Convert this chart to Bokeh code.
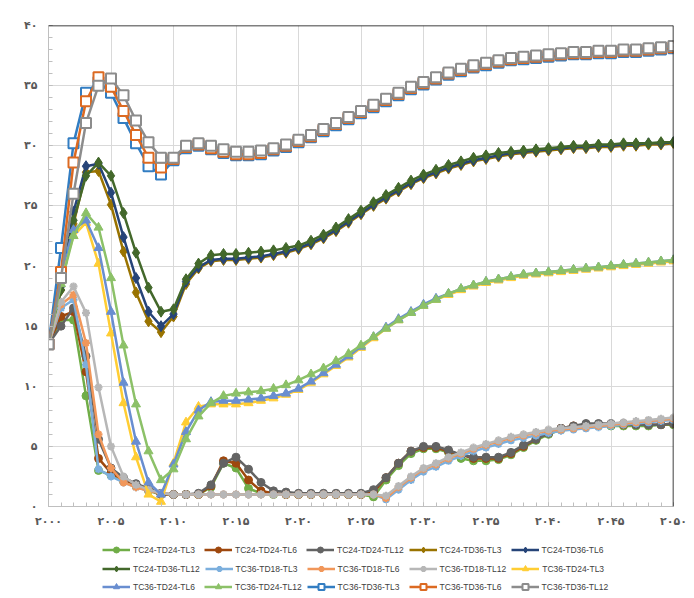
from bokeh.plotting import figure
from bokeh.layouts import column
from bokeh.models import Range1d, FixedTicker, Span, Legend, LegendItem
from bokeh.embed import file_html
from bokeh.resources import INLINE

years = list(range(2000, 2051))

x_ticks = [2000, 2005, 2010, 2015, 2020, 2025, 2030, 2035, 2040, 2045, 2050]
x_tick_labels = ["۲۰۰۰", "۲۰۰۵", "۲۰۱۰", "۲۰۱۵", "۲۰۲۰", "۲۰۲۵", "۲۰۳۰", "۲۰۳۵", "۲۰۴۰", "۲۰۴۵", "۲۰۵۰"]
y_ticks = [0, 5, 10, 15, 20, 25, 30, 35, 40]
y_tick_labels = ["۰", "۵", "۱۰", "۱۵", "۲۰", "۲۵", "۳۰", "۳۵", "۴۰"]

series_names = [
    "TC24-TD24-TL3", "TC24-TD24-TL6", "TC24-TD24-TL12", "TC24-TD36-TL3", "TC24-TD36-TL6",
    "TC24-TD36-TL12", "TC36-TD18-TL3", "TC36-TD18-TL6", "TC36-TD18-TL12", "TC36-TD24-TL3",
    "TC36-TD24-TL6", "TC36-TD24-TL12", "TC36-TD36-TL3", "TC36-TD36-TL6", "TC36-TD36-TL12",
]

tc24_td24_tl3 = [13.5, 15.5, 15.5, 9.2, 3.0, 2.6, 2.1, 1.7, 1.3, 1.0,
                 1.0, 1.0, 1.0, 1.6, 3.6, 3.2, 1.5, 1.1, 1.0, 1.0,
                 1.0, 1.0, 1.0, 1.0, 1.0, 1.0, 0.8, 2.2, 3.4, 4.4,
                 4.8, 4.8, 4.5, 4.0, 3.8, 3.8, 3.9, 4.3, 4.9, 5.5,
                 6.0, 6.4, 6.6, 6.7, 6.7, 6.7, 6.7, 6.7, 6.7, 6.8,
                 6.8]
tc24_td24_tl6 = [13.5, 15.8, 16.2, 11.2, 4.0, 2.8, 2.2, 1.8, 1.4, 1.0,
                 1.0, 1.0, 1.0, 1.7, 3.8, 3.6, 2.2, 1.3, 1.1, 1.0,
                 1.0, 1.0, 1.0, 1.0, 1.0, 1.0, 1.2, 2.4, 3.6, 4.6,
                 4.9, 4.9, 4.6, 4.3, 4.0, 4.0, 4.0, 4.4, 5.0, 5.6,
                 6.1, 6.5, 6.7, 6.8, 6.8, 6.8, 6.8, 6.8, 6.8, 6.8,
                 6.9]
tc24_td24_tl12 = [13.5, 15.0, 16.5, 12.5, 5.6, 3.2, 2.4, 1.9, 1.5, 1.1,
                  1.0, 1.0, 1.1, 1.8, 3.6, 4.1, 3.1, 2.0, 1.3, 1.2,
                  1.1, 1.1, 1.1, 1.1, 1.1, 1.1, 1.4, 2.4, 3.6, 4.6,
                  5.0, 5.0, 4.7, 4.3, 4.1, 4.1, 4.1, 4.5, 5.1, 5.6,
                  6.1, 6.5, 6.7, 6.9, 6.9, 6.9, 6.9, 6.8, 6.8, 6.8,
                  6.9]
tc24_td36_tl3 = [13.5, 18.0, 23.5, 27.8, 27.9, 25.1, 21.2, 17.8, 15.4, 14.5,
                 15.8, 18.5, 19.8, 20.4, 20.5, 20.5, 20.6, 20.7, 20.9, 21.1,
                 21.4, 21.8, 22.3, 22.9, 23.6, 24.3, 25.0, 25.6, 26.2, 26.8,
                 27.3, 27.7, 28.1, 28.4, 28.7, 28.9, 29.1, 29.3, 29.4, 29.5,
                 29.6, 29.7, 29.8, 29.8, 29.9, 29.9, 30.0, 30.0, 30.1, 30.1,
                 30.2]
tc24_td36_tl6 = [13.5, 18.3, 24.5, 28.3, 28.5, 26.1, 22.4, 19.0, 16.2, 15.0,
                 16.0, 18.7, 19.9, 20.5, 20.6, 20.6, 20.7, 20.8, 21.0, 21.2,
                 21.5, 21.9, 22.4, 23.0, 23.7, 24.4, 25.1, 25.7, 26.3, 26.9,
                 27.4, 27.8, 28.2, 28.5, 28.8, 29.0, 29.2, 29.4, 29.5, 29.6,
                 29.7, 29.8, 29.9, 29.9, 30.0, 30.0, 30.1, 30.1, 30.2, 30.2,
                 30.3]
tc24_td36_tl12 = [13.5, 18.0, 23.8, 27.5, 28.6, 27.5, 24.4, 21.1, 18.2, 16.2,
                  16.4, 18.9, 20.2, 20.9, 21.0, 21.0, 21.1, 21.2, 21.3, 21.5,
                  21.7, 22.1, 22.6, 23.2, 23.9, 24.6, 25.3, 25.9, 26.5, 27.1,
                  27.6, 28.0, 28.4, 28.7, 29.0, 29.2, 29.4, 29.5, 29.6, 29.7,
                  29.8, 29.9, 30.0, 30.0, 30.1, 30.1, 30.2, 30.2, 30.2, 30.3,
                  30.3]
tc36_td18_tl3 = [13.5, 16.5, 17.2, 11.8, 3.1, 2.5, 2.0, 1.6, 1.3, 1.1,
                 1.0, 1.0, 1.0, 1.0, 1.0, 1.0, 1.0, 1.0, 1.0, 1.0,
                 1.0, 1.0, 1.0, 1.0, 1.0, 1.0, 1.0, 0.6, 1.4, 2.2,
                 2.9, 3.3, 3.8, 4.2, 4.6, 4.9, 5.2, 5.5, 5.7, 5.9,
                 6.1, 6.3, 6.4, 6.5, 6.6, 6.7, 6.8, 6.9, 7.0, 7.1,
                 7.2]
tc36_td18_tl6 = [13.5, 16.8, 17.6, 13.6, 6.0, 3.2, 2.0, 1.6, 1.3, 1.1,
                 1.0, 1.0, 1.0, 1.0, 1.0, 1.0, 1.0, 1.0, 1.0, 1.0,
                 1.0, 1.0, 1.0, 1.0, 1.0, 1.0, 1.0, 0.7, 1.6, 2.4,
                 3.1, 3.5, 4.0, 4.4, 4.8, 5.1, 5.4, 5.7, 5.9, 6.1,
                 6.3, 6.4, 6.5, 6.6, 6.7, 6.8, 6.9, 7.0, 7.1, 7.2,
                 7.3]
tc36_td18_tl12 = [13.5, 17.0, 18.3, 16.1, 9.9, 5.0, 2.5, 1.8, 1.4, 1.1,
                  1.0, 1.0, 1.0, 1.0, 1.0, 1.0, 1.0, 1.0, 1.0, 1.0,
                  1.0, 1.0, 1.0, 1.0, 1.0, 1.0, 1.0, 0.9, 1.7, 2.5,
                  3.2, 3.6, 4.1, 4.5, 4.9, 5.2, 5.5, 5.8, 6.0, 6.2,
                  6.4, 6.5, 6.6, 6.7, 6.8, 6.9, 7.0, 7.1, 7.2, 7.3,
                  7.4]
tc36_td24_tl3 = [13.5, 19.0, 22.5, 23.6, 20.2, 14.4, 8.6, 4.1, 1.0, 0.4,
                 3.6, 7.0, 8.3, 8.5, 8.5, 8.5, 8.6, 8.8, 9.0, 9.3,
                 9.7, 10.3, 11.0, 11.7, 12.4, 13.2, 14.0, 14.8, 15.5, 16.1,
                 16.7, 17.2, 17.6, 18.0, 18.3, 18.6, 18.8, 19.0, 19.2, 19.3,
                 19.4, 19.5, 19.6, 19.7, 19.8, 19.9, 20.0, 20.1, 20.2, 20.3,
                 20.4]
tc36_td24_tl6 = [13.5, 19.5, 23.0, 23.8, 21.5, 16.2, 10.3, 5.4, 2.0, 1.0,
                 3.5, 6.2, 8.0, 8.7, 8.8, 8.8, 8.9, 9.0, 9.2, 9.4,
                 9.8, 10.4, 11.1, 11.8, 12.5, 13.3, 14.1, 14.9, 15.6, 16.2,
                 16.8, 17.3, 17.7, 18.1, 18.4, 18.7, 18.9, 19.1, 19.3, 19.4,
                 19.5, 19.6, 19.7, 19.8, 19.9, 20.0, 20.1, 20.2, 20.3, 20.4,
                 20.5]
tc36_td24_tl12 = [13.5, 18.5, 22.5, 24.4, 23.2, 19.0, 13.4, 8.5, 4.6, 2.2,
                  3.1, 5.6, 7.5, 8.6, 9.2, 9.4, 9.5, 9.6, 9.8, 10.1,
                  10.5, 11.0, 11.5, 12.1, 12.7, 13.4, 14.1, 14.8, 15.5, 16.1,
                  16.7, 17.2, 17.7, 18.1, 18.4, 18.7, 18.9, 19.1, 19.3, 19.4,
                  19.5, 19.6, 19.7, 19.8, 19.9, 20.0, 20.1, 20.2, 20.3, 20.4,
                  20.5]
tc36_td36_tl3 = [13.5, 21.5, 30.2, 34.4, 35.3, 34.4, 32.3, 30.2, 28.3, 27.6,
                 28.8, 29.8, 30.0, 29.7, 29.4, 29.2, 29.2, 29.3, 29.6, 29.9,
                 30.3, 30.7, 31.2, 31.7, 32.2, 32.7, 33.2, 33.7, 34.2, 34.7,
                 35.1, 35.5, 35.9, 36.2, 36.5, 36.7, 36.9, 37.1, 37.2, 37.3,
                 37.4, 37.5, 37.6, 37.6, 37.7, 37.7, 37.8, 37.8, 37.9, 38.0,
                 38.1]
tc36_td36_tl6 = [13.5, 19.5, 28.6, 33.7, 35.7, 34.9, 32.9, 30.9, 29.0, 28.2,
                 28.9, 29.9, 30.1, 29.8, 29.5, 29.3, 29.3, 29.4, 29.7, 30.0,
                 30.4, 30.8, 31.3, 31.8, 32.3, 32.8, 33.3, 33.8, 34.3, 34.8,
                 35.2, 35.6, 36.0, 36.3, 36.6, 36.8, 37.0, 37.2, 37.3, 37.4,
                 37.5, 37.6, 37.7, 37.7, 37.8, 37.8, 37.9, 37.9, 38.0, 38.1,
                 38.2]
tc36_td36_tl12 = [13.5, 19.0, 26.0, 31.9, 35.0, 35.6, 34.2, 32.1, 30.3, 29.0,
                  29.0, 30.0, 30.2, 30.0, 29.7, 29.5, 29.5, 29.6, 29.8, 30.1,
                  30.5, 30.9, 31.4, 31.9, 32.4, 32.9, 33.4, 33.9, 34.4, 34.9,
                  35.3, 35.7, 36.1, 36.4, 36.7, 36.9, 37.1, 37.3, 37.4, 37.5,
                  37.6, 37.7, 37.8, 37.8, 37.9, 37.9, 38.0, 38.0, 38.1, 38.2,
                  38.3]

series_values = [
    tc24_td24_tl3, tc24_td24_tl6, tc24_td24_tl12, tc24_td36_tl3, tc24_td36_tl6,
    tc24_td36_tl12, tc36_td18_tl3, tc36_td18_tl6, tc36_td18_tl12, tc36_td24_tl3,
    tc36_td24_tl6, tc36_td24_tl12, tc36_td36_tl3, tc36_td36_tl6, tc36_td36_tl12,
]

colors = [
    "#70AD47", "#9E480E", "#636363", "#997300", "#264478",
    "#43682B", "#7CAFDD", "#F1975A", "#B7B7B7", "#FFCD33",
    "#698ED0", "#8CC168", "#327DC2", "#DC6A22", "#8C8C8C",
]
markers = [
    "circle", "circle", "circle", "diamond", "diamond",
    "diamond", "asterisk", "asterisk", "asterisk", "triangle",
    "triangle", "triangle", "square", "square", "square",
]


def add_series(fig, xs, ys, col, mk):
    lr = fig.line(xs, ys, line_color=col, line_width=2.5)
    if mk == "square":
        sr = fig.scatter(xs, ys, marker=mk, size=10, line_color=col, line_width=2,
                         fill_color="white")
    elif mk == "asterisk":
        sr = fig.scatter(xs, ys, marker=mk, size=8, line_color=col, line_width=2.2)
    elif mk == "diamond":
        sr = fig.scatter(xs, ys, marker=mk, size=11, line_color=col, fill_color=col)
    elif mk == "triangle":
        sr = fig.scatter(xs, ys, marker=mk, size=9, line_color=col, fill_color=col)
    else:
        sr = fig.scatter(xs, ys, marker=mk, size=8, line_color=col, fill_color=col)
    return lr, sr


p = figure(width=690, height=530, output_backend="svg", toolbar_location=None,
           x_range=Range1d(2000, 2050), y_range=Range1d(0, 40),
           min_border_left=48, min_border_right=17, min_border_top=25, min_border_bottom=23)
p.outline_line_color = None
p.background_fill_color = "white"

for vals, col, mk in zip(series_values, colors, markers):
    add_series(p, years, vals, col, mk)

p.xaxis.ticker = FixedTicker(ticks=x_ticks, minor_ticks=years)
p.yaxis.ticker = FixedTicker(ticks=y_ticks, minor_ticks=list(range(0, 41)))
p.xaxis.major_label_overrides = dict(zip(x_ticks, x_tick_labels))
p.yaxis.major_label_overrides = dict(zip(y_ticks, y_tick_labels))

for ax in (p.xaxis[0], p.yaxis[0]):
    ax.axis_line_color = "#BFBFBF"
    ax.axis_line_width = 1
    ax.major_tick_in = 4
    ax.major_tick_out = 0
    ax.minor_tick_in = 4
    ax.minor_tick_out = 0
    ax.major_tick_line_color = "#BFBFBF"
    ax.minor_tick_line_color = "#BFBFBF"
    ax.major_label_text_font = "DejaVu Sans"
    ax.major_label_text_font_style = "bold"
    ax.major_label_text_font_size = "11px"
    ax.major_label_text_color = "#595959"
p.xaxis.major_label_standoff = 8
p.yaxis.major_label_standoff = 11

p.xgrid.grid_line_color = "#D9D9D9"
p.ygrid.grid_line_color = "#D9D9D9"

p.add_layout(Span(location=40, dimension="width", line_color="black", line_width=1.5))
p.add_layout(Span(location=2050, dimension="height", line_color="black", line_width=1.5))

# legend panel (swatch renderers sit outside its visible range)
q = figure(width=690, height=66, output_backend="svg", toolbar_location=None,
           x_range=Range1d(0, 1), y_range=Range1d(0, 1),
           x_axis_location=None, y_axis_location=None,
           min_border_left=0, min_border_right=0, min_border_top=0, min_border_bottom=0)
q.outline_line_color = None
q.grid.visible = False

swatch_x = [-5.0, -4.0]
swatch_y = [-5.0, -5.0]
items = []
for name, col, mk in zip(series_names, colors, markers):
    lr, sr = add_series(q, swatch_x, swatch_y, col, mk)
    items.append(LegendItem(label=name, renderers=[lr, sr]))

row_offsets = [37, 18, 0]
for r in range(3):
    lg = Legend(items=items[r * 5:(r + 1) * 5], orientation="horizontal",
                location=(52, row_offsets[r]),
                glyph_width=28, glyph_height=15, label_standoff=3, label_width=66,
                label_height=15, spacing=5, padding=2, margin=0,
                border_line_alpha=0, background_fill_alpha=0,
                label_text_font="Liberation Sans", label_text_font_size="8.5px",
                label_text_color="#404040")
    q.add_layout(lg)

layout = column(p, q, spacing=0)
open("out.html", "w").write(file_html(layout, INLINE))
